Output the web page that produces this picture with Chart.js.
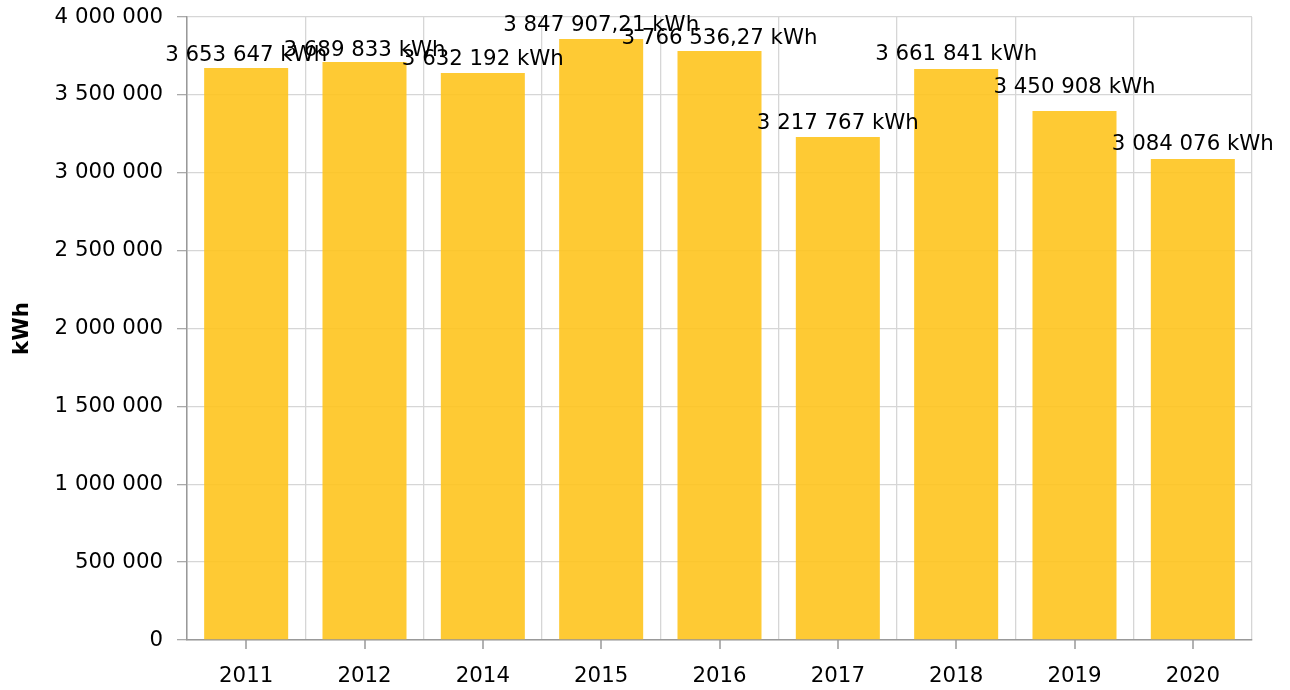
<!DOCTYPE html>
<html>
<head>
<meta charset="utf-8">
<script src="https://cdn.jsdelivr.net/npm/chart.js@4/dist/chart.umd.min.js"></script>
<style>
html,body{margin:0;padding:0;background:#fff;}
#wrap{width:1290px;height:690px;position:relative;}
</style>
</head>
<body>
<div id="wrap"><canvas id="c" width="1290" height="690"></canvas></div>
<script>
const categories = ["2011","2012","2014","2015","2016","2017","2018","2019","2020"];
const barValues = [3672600, 3711000, 3640000, 3859000, 3782000, 3229600, 3666000, 3396500, 3088000];
const labelValues = [3653647, 3689833, 3632192, 3847907.21, 3766536.27, 3217767, 3661841, 3450908, 3084076];
const labelTexts = ["3 653 647 kWh","3 689 833 kWh","3 632 192 kWh","3 847 907,21 kWh","3 766 536,27 kWh","3 217 767 kWh","3 661 841 kWh","3 450 908 kWh","3 084 076 kWh"];
const yMin = 0, yMax = 4000000, yStep = 500000;
const yTitle = "kWh";

const FONT = "'DejaVu Sans', Verdana, sans-serif";
const FS = 21.3;

function fmt(v){ return String(Math.round(v)).replace(/\B(?=(\d{3})+(?!\d))/g, " "); }

const extras = {
  id: 'extras',
  afterDraw(chart){
    const ctx = chart.ctx;
    const x = chart.scales.x, y = chart.scales.y;
    const meta = chart.getDatasetMeta(0);
    ctx.save();
    ctx.strokeStyle = '#999';
    ctx.lineWidth = 1.5;
    categories.forEach((c,i)=>{
      const px = Math.round(x.getPixelForValue(i));
      ctx.beginPath();
      ctx.moveTo(px, y.bottom);
      ctx.lineTo(px, y.bottom + 9);
      ctx.stroke();
    });
    ctx.fillStyle = '#000';
    ctx.font = FS + "px " + FONT;
    ctx.textAlign = 'center';
    ctx.textBaseline = 'middle';
    meta.data.forEach((bar,i)=>{
      const py = y.getPixelForValue(labelValues[i]) - 15;
      ctx.fillText(labelTexts[i], bar.x, py);
    });
    ctx.restore();
  }
};

new Chart(document.getElementById('c'), {
  type: 'bar',
  data: {
    labels: categories,
    datasets: [{
      data: barValues,
      backgroundColor: 'rgba(254,196,30,0.9)',
      borderWidth: 0,
      barPercentage: 0.71,
      categoryPercentage: 1.0
    }]
  },
  options: {
    responsive: false,
    animation: false,
    devicePixelRatio: 1,
    layout: { padding: { top: 17, right: 38, left: 0, bottom: 0 } },
    plugins: { legend: { display: false }, tooltip: { enabled: false } },
    scales: {
      x: {
        offset: true,
        grid: { offset: true, color: '#d6d6d6', lineWidth: 1.3, drawTicks: false },
        border: { color: '#999', width: 1.5 },
        ticks: { color: '#000', font: { family: FONT, size: FS }, padding: 24 },
        afterFit(s){ s.height = 50; s.paddingLeft = 0; s.paddingRight = 0; }
      },
      y: {
        min: yMin, max: yMax,
        grid: { color: '#d6d6d6', lineWidth: 1.3, tickColor: '#aaa', tickLength: 10 },
        border: { color: '#999', width: 1.5 },
        ticks: { stepSize: yStep, color: '#000', font: { family: FONT, size: FS }, padding: 14, callback: v => fmt(v) },
        title: { display: true, text: yTitle, color: '#000', font: { family: FONT, size: FS, weight: 'bold' }, padding: { top: 10, bottom: 0 } },
        afterFit(s){ s.width = 187; s.paddingTop = 0; s.paddingBottom = 0; }
      }
    }
  },
  plugins: [extras]
});
</script>
</body>
</html>
